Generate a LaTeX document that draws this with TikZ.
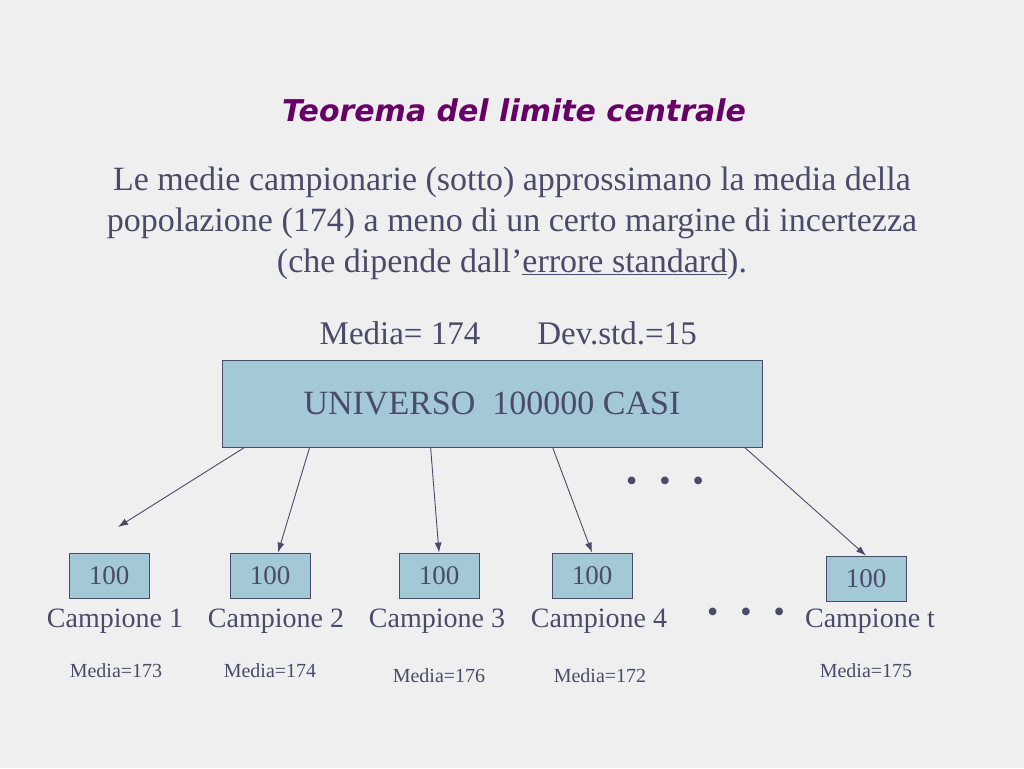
\documentclass[tikz,border=0pt]{standalone}
\usepackage{fontspec}
\setmainfont{Liberation Serif}
\newfontfamily\titlefont{DejaVu Sans}
\usetikzlibrary{positioning,arrows.meta}

\definecolor{bgcol}{RGB}{239,239,239}
\definecolor{inkcol}{RGB}{74,74,106}
\definecolor{boxcol}{RGB}{163,200,214}
\definecolor{titlecol}{RGB}{102,0,102}

\begin{document}
\begin{tikzpicture}[
            x=1pt, y=-1pt,
            every node/.style={text=inkcol, inner sep=0pt},
            univbox/.style={rectangle, draw=inkcol, fill=boxcol, line width=0.8pt, minimum width=540pt, minimum height=87pt, font=\fontsize{34}{40}\selectfont},
            sampbox/.style={rectangle, draw=inkcol, fill=boxcol, line width=0.8pt, minimum width=80pt, minimum height=45pt, font=\fontsize{27}{30}\selectfont},
            camplabel/.style={font=\fontsize{28}{32}\selectfont},
            medlabel/.style={font=\fontsize{20}{24}\selectfont},
            dotrow/.style={font=\fontsize{32}{34}\selectfont},
            arr/.style={-{Latex[length=10pt,width=7pt]}, draw=inkcol, line width=0.9pt}
            ]
            % Background
            \fill[bgcol] (0,0) rectangle (1024,768);
            \useasboundingbox (0,0) rectangle (1024,768);

            % Title and text
            \node[text=titlecol, font=\titlefont\bfseries\itshape\fontsize{30}{36}\selectfont] (title) at (514,110) {Teorema del limite centrale};
            \node[align=center, font=\fontsize{34}{41}\selectfont] (intro) at (512,223)
              {Le medie campionarie (sotto) approssimano la media della\\
               popolazione (174) a meno di un certo margine di incertezza\\
               (che dipende dall'\underline{errore standard}).};
            \node[font=\fontsize{33}{38}\selectfont] (media) at (400,333) {Media= 174};
            \node[font=\fontsize{33}{38}\selectfont] (devstd) at (617,333) {Dev.std.=15};

            % Universe
            \node[univbox] (univ) at (492,403.5) {UNIVERSO\ \ 100000 CASI};
            \node[dotrow] (dots1) at (665,484) {\textbullet\hspace{22pt}\textbullet\hspace{22pt}\textbullet};

            % Samples
            \node[sampbox] (b1) at (109,575.5) {100};
            \node[sampbox] (b2) at (270,575.5) {100};
            \node[sampbox] (b3) at (439,575.5) {100};
            \node[sampbox] (b4) at (592,575.5) {100};
            \node[sampbox] (bt) at (866,578.5) {100};

            \node[camplabel] (c1) at (115,621) {Campione 1};
            \node[camplabel] (c2) at (276,621) {Campione 2};
            \node[camplabel] (c3) at (437,621) {Campione 3};
            \node[camplabel] (c4) at (599,621) {Campione 4};
            \node[camplabel] (ct) at (870,621) {Campione t};
            \node[dotrow] (dots2) at (746,615) {\textbullet\hspace{22pt}\textbullet\hspace{22pt}\textbullet};

            \node[medlabel] (m1) at (116,671) {Media=173};
            \node[medlabel] (m2) at (270,671) {Media=174};
            \node[medlabel] (m3) at (439,676) {Media=176};
            \node[medlabel] (m4) at (600,676) {Media=172};
            \node[medlabel] (mt) at (866,671) {Media=175};

            % Arrows
            \coordinate (free1) at (118,527);
            \draw[arr] ([xshift=23pt]univ.south west) -- (free1);
            \draw[arr] ([xshift=88pt]univ.south west) -- ([xshift=8pt]b2.north);
            \draw[arr] ([xshift=209pt]univ.south west) -- (b3.north);
            \draw[arr] ([xshift=331pt]univ.south west) -- (b4.north);
            \draw[arr] ([xshift=523pt]univ.south west) -- (bt.north);
          \end{tikzpicture}
\end{document}
